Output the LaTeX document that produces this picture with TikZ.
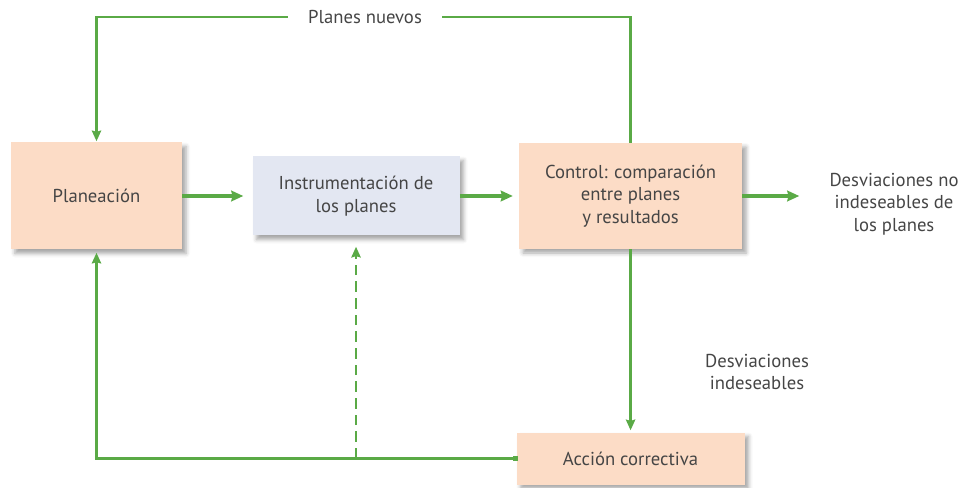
\documentclass[tikz,border=0pt]{standalone}
\usepackage{fontspec}
\setmainfont{PT Sans}
\usetikzlibrary{arrows.meta,positioning,shadows.blur}
\definecolor{peach}{HTML}{FCDCC6}
\definecolor{gris}{HTML}{E3E7F2}
\definecolor{verde}{HTML}{5AAA46}
\definecolor{txt}{HTML}{454545}
\begin{document}
\begin{tikzpicture}[x=0.75pt,y=-0.75pt,>=Stealth,
                    box/.style={fill=peach,align=center,text=txt,
                      font=\fontsize{14}{16.8}\selectfont,
                      blur shadow={shadow xshift=3pt,shadow yshift=-3pt,
                        shadow blur radius=3pt,shadow opacity=35}},
                    lbl/.style={align=center,text=txt,inner sep=0pt,
                      font=\fontsize{14}{16.8}\selectfont},
                    flow/.style={draw=verde,line width=2.4pt,
                      -{Stealth[length=9pt,width=8pt,inset=1pt]}},
                    link/.style={draw=verde,line width=1.7pt,
                      -{Stealth[length=8pt,width=7pt,inset=1pt]}}]
  \useasboundingbox (0,0) rectangle (963,488);
  \node[box,minimum width=128.25pt,minimum height=80.25pt] (plan) at (96.5,196) {Planeación};
  \node[box,fill=gris,minimum width=155.25pt,minimum height=59.25pt,right=52.5pt of plan] (instr) {Instrumentación de\\los planes};
  \node[box,minimum width=167.25pt,minimum height=79.5pt,right=44.25pt of instr] (ctrl) {Control: comparación\\entre planes\\y resultados};
  \node[box,minimum width=171pt,minimum height=39pt,below=137.25pt of ctrl] (acc) {Acción correctiva};
  \node[lbl] (noindes) at (894,204) {Desviaciones no\\indeseables de\\los planes};
  \node[lbl] (indes) at (757,372) {Desviaciones\\indeseables};
  \node[lbl,inner xsep=15pt] (nuevos) at (365,17) {Planes nuevos};
  % flujo principal
  \draw[flow,shorten >=6.75pt] (plan) -- (instr);
  \draw[flow,shorten >=4.5pt] (instr) -- (ctrl);
  \draw[flow,shorten >=22.5pt] (ctrl.east) -- (ctrl.east -| noindes.west);
  % retroalimentacion
  \draw[draw=verde,line width=1.7pt] (ctrl.north) |- (nuevos.east);
  \draw[link,shorten >=0.75pt] (nuevos.west) -| (plan.north);
  \draw[link,shorten >=1.5pt] (ctrl.south) -- (acc.north);
  \draw[link,shorten >=2.25pt] (acc.west) -| (plan.south);
  \fill[verde] (acc.west) ++(-2.5pt,-2pt) rectangle ++(4pt,4pt);
  \draw[link,dashed,dash pattern=on 8pt off 4.5pt,shorten >=8.25pt] (acc.west -| instr.south) -- (instr.south);
\end{tikzpicture}
\end{document}
